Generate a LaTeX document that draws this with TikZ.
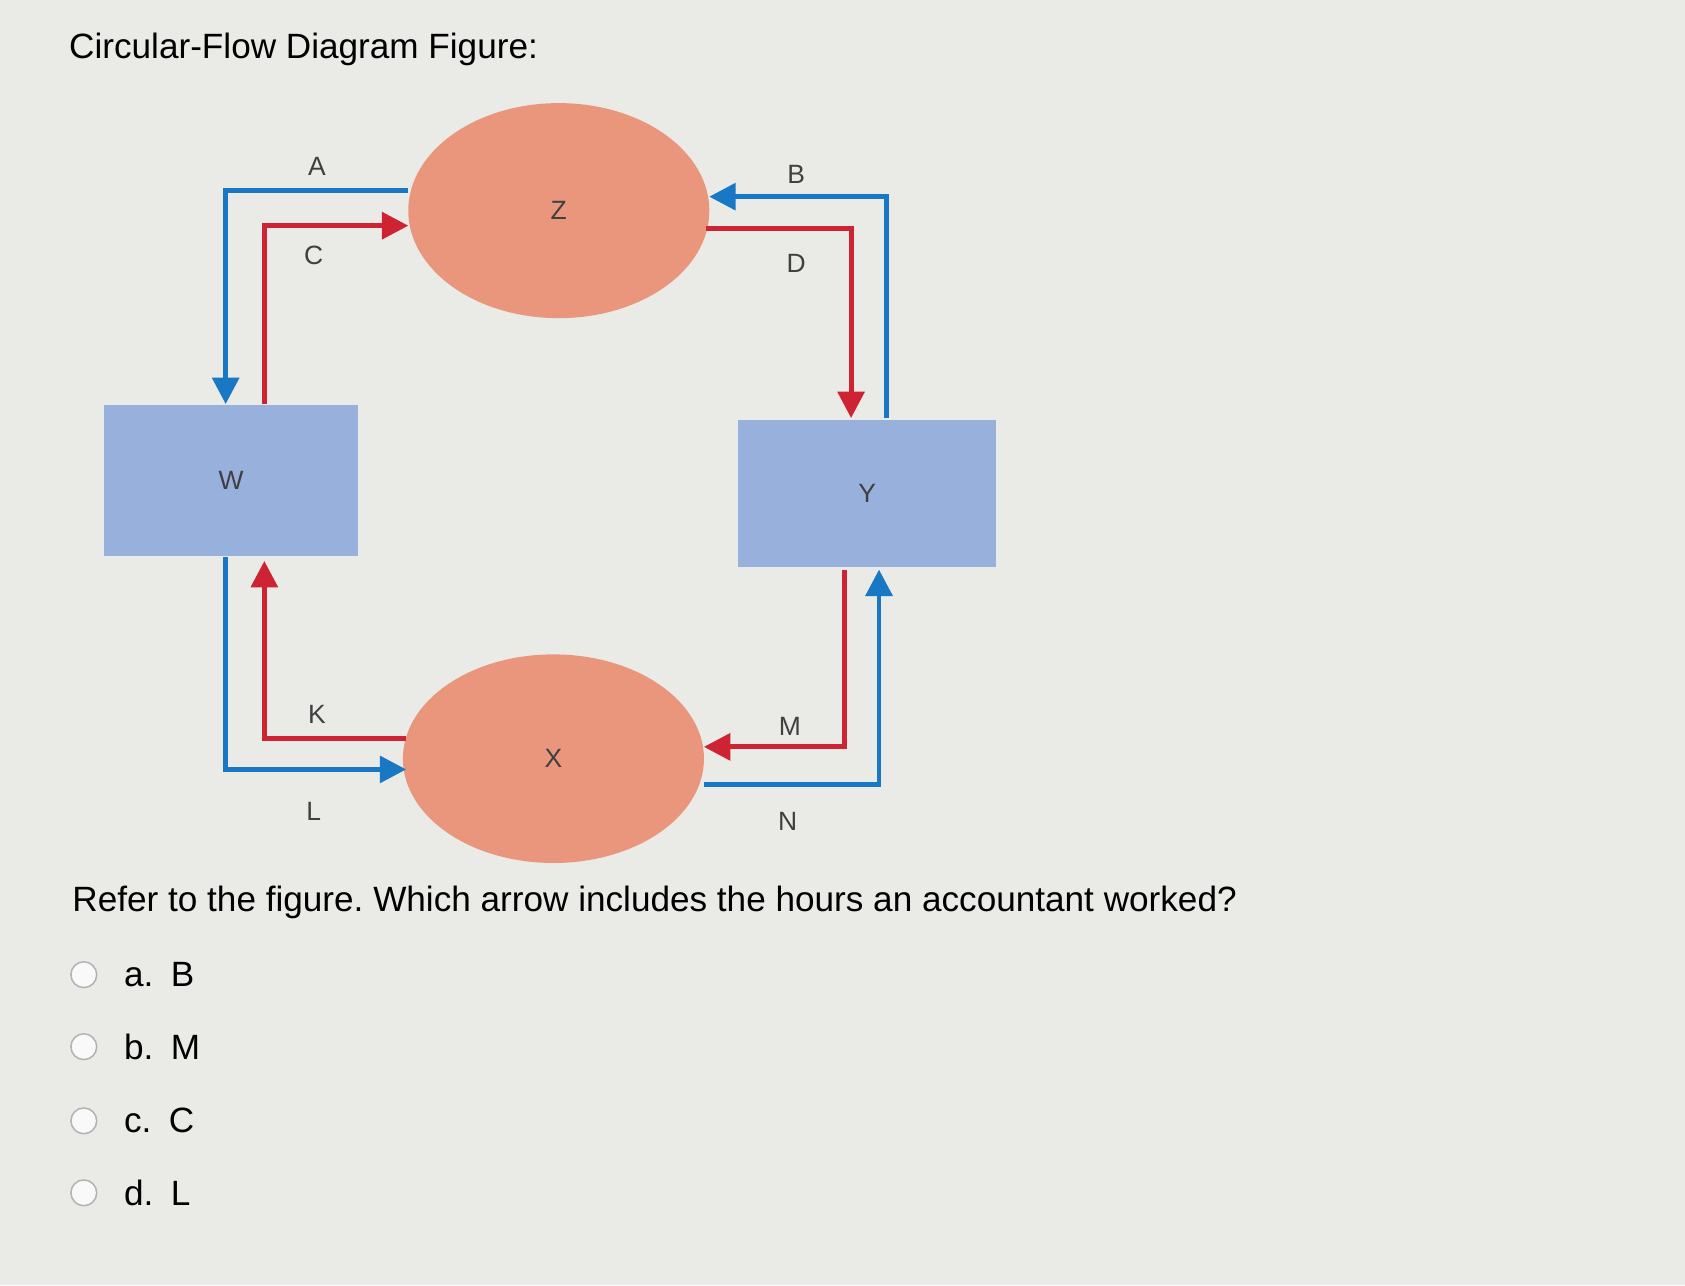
\documentclass[tikz,border=0pt]{standalone}
\usepackage{fontspec}
\setmainfont{Liberation Sans}
\usetikzlibrary{arrows.meta,shapes.geometric}
\frenchspacing
\definecolor{bg}{RGB}{234,234,231}
\definecolor{salmon}{RGB}{233,150,124}
\definecolor{boxblue}{RGB}{152,176,220}
\definecolor{fblue}{RGB}{25,120,195}
\definecolor{fred}{RGB}{205,35,50}
\tikzset{
 bflow/.style={draw=fblue,line width=1.3pt,-{Triangle[length=7pt,width=7pt]}},
 rflow/.style={draw=fred,line width=1.3pt,-{Triangle[length=7pt,width=7pt]}},
 lab/.style={font=\fontsize{7}{8}\selectfont,text=black!75},
 qtext/.style={font=\fontsize{9.3}{11}\selectfont,anchor=west},
 opt/.style={draw=black!30,fill=white!95!gray,circle,minimum size=0.24cm,inner sep=0pt}
}
\begin{document}
\begin{tikzpicture}[x=0.01cm,y=-0.01cm]
\fill[bg] (0,0) rectangle (1568,1196);
\useasboundingbox (0,0) rectangle (1568,1196);
\node[qtext] (title) at (52,46) {Circular-Flow Diagram Figure:};
\node[ellipse,fill=salmon,minimum width=2.8cm,minimum height=2cm] (Z) at (520,196) {};
\node[ellipse,fill=salmon,minimum width=2.8cm,minimum height=1.94cm] (X) at (515,706) {};
\node[fill=boxblue,minimum width=2.37cm,minimum height=1.41cm] (W) at (215,447) {};
\node[fill=boxblue,minimum width=2.4cm,minimum height=1.37cm] (Y) at (807,459) {};
\node[lab] at (Z.center) {Z};
\node[lab] at (X.center) {X};
\node[lab] at (W.center) {W};
\node[lab] at (Y.center) {Y};
% connectors
\coordinate (a1) at (380,177); \coordinate (a2) at (210,376);
\draw[bflow] (a1) -- (210,177) -- (a2);
\coordinate (c1) at (246,376); \coordinate (c2) at (380,210);
\draw[rflow] (c1) -- (246,210) -- (c2);
\coordinate (b1) at (825,389); \coordinate (b2) at (660,183);
\draw[bflow] (b1) -- (825,183) -- (b2);
\coordinate (d1) at (657,213); \coordinate (d2) at (792,389);
\draw[rflow] (d1) -- (792,213) -- (d2);
\coordinate (k1) at (378,687); \coordinate (k2) at (246,522);
\draw[rflow] (k1) -- (246,687) -- (k2);
\coordinate (l1) at (210,518); \coordinate (l2) at (378,716);
\draw[bflow] (l1) -- (210,716) -- (l2);
\coordinate (m1) at (786,530); \coordinate (m2) at (655,695);
\draw[rflow] (m1) -- (786,695) -- (m2);
\coordinate (n1) at (655,730); \coordinate (n2) at (818,530);
\draw[bflow] (n1) -- (818,730) -- (n2);
\node[lab] at (295,155) {A};
\node[lab] at (292,238) {C};
\node[lab] at (741,162) {B};
\node[lab] at (741,245) {D};
\node[lab] at (295,665) {K};
\node[lab] at (292,755) {L};
\node[lab] at (735,676) {M};
\node[lab] at (733,764) {N};
\node[qtext] (q) at (55,840) {Refer to the figure. Which arrow includes the hours an accountant worked?};
\node[opt] (o1) at (78,907) {}; \node[qtext] at (103,907) {a.\enspace B};
\node[opt] (o2) at (78,974) {}; \node[qtext] at (103,974) {b.\enspace M};
\node[opt] (o3) at (78,1043) {}; \node[qtext] at (103,1043) {c.\enspace C};
\node[opt] (o4) at (78,1110) {}; \node[qtext] at (103,1110) {d.\enspace L};
\end{tikzpicture}
\end{document}
